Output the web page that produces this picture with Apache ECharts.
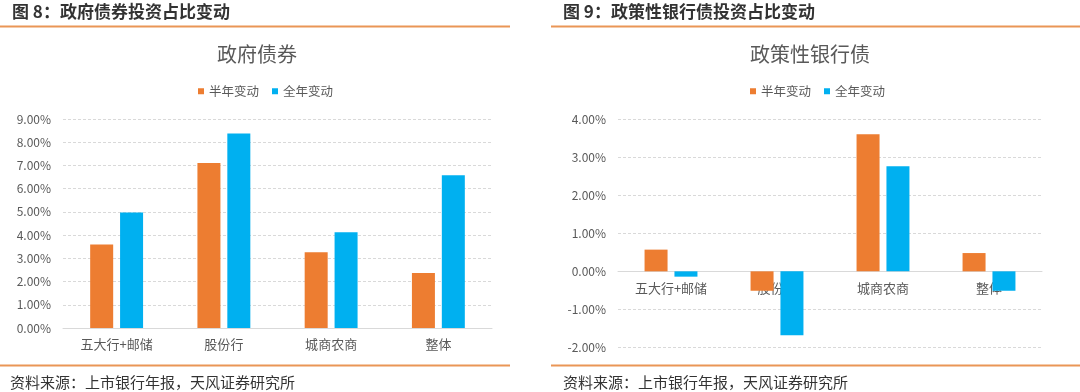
<!DOCTYPE html>
<html>
<head>
<meta charset="utf-8">
<script src="https://cdn.jsdelivr.net/npm/echarts@6/dist/echarts.min.js"></script>
<style>
html,body{margin:0;padding:0;background:#fff;}
#main{width:1080px;height:392px;}
</style>
</head>
<body>
<div id="main"></div>
<script>
var categories = ['五大行+邮储', '股份行', '城商农商', '整体'];
var seriesNames = ['半年变动', '全年变动'];
var govHalf = [3.60, 7.11, 3.26, 2.37];
var govFull = [4.97, 8.38, 4.12, 6.58];
var policyHalf = [0.57, -0.51, 3.60, 0.48];
var policyFull = [-0.14, -1.68, 2.76, -0.51];
var leftTicks = {min: 0, max: 9, interval: 1};
var rightTicks = {min: -2, max: 4, interval: 1};
var headerLeft = '图 8：政府债券投资占比变动';
var headerRight = '图 9：政策性银行债投资占比变动';
var titleLeft = '政府债券';
var titleRight = '政策性银行债';
var sourceText = '资料来源：上市银行年报，天风证券研究所';

var FONT = '"Noto Sans CJK SC", "Noto Sans", sans-serif';
var ORANGE = '#ED7D31';
var BLUE = '#00B0F0';
var LINE = '#EA9656';
var LABEL = '#595959';

var RIGHT_TOP = 119, RIGHT_H = 228.5;
// distance from grid bottom up to the zero line of the right chart
var zeroOffset = -RIGHT_H * (0 - rightTicks.min) / (rightTicks.max - rightTicks.min);

function pct(v) { return v.toFixed(2) + '%'; }

function xAxis(gridIndex, offset) {
  return {
    type: 'category', gridIndex: gridIndex, data: categories,
    offset: offset,
    axisLine: {show: true, onZero: false, lineStyle: {color: '#d9d9d9', width: 1}},
    axisTick: {show: false},
    axisLabel: {color: LABEL, fontSize: 13, fontFamily: FONT, margin: 10, interval: 0}
  };
}
function yAxis(gridIndex, t) {
  return {
    type: 'value', gridIndex: gridIndex, min: t.min, max: t.max, interval: t.interval,
    axisLine: {show: false}, axisTick: {show: false},
    axisLabel: {color: LABEL, fontSize: 12, fontFamily: FONT, margin: 12, formatter: pct},
    splitLine: {show: true, lineStyle: {color: '#d9d9d9', type: [3, 2], width: 1}}
  };
}
function bar(name, data, idx, color) {
  return {
    name: name, type: 'bar', xAxisIndex: idx, yAxisIndex: idx, data: data,
    barWidth: 23, barGap: '30%', itemStyle: {color: color}, animation: false, z: 3
  };
}
function legend(left) {
  return {
    left: left, top: 80, itemWidth: 6, itemHeight: 6, itemGap: 13, icon: 'rect',
    data: seriesNames,
    textStyle: {color: LABEL, fontSize: 12.5, fontFamily: FONT}
  };
}
function txt(x, y, text, size, weight, color, align) {
  return {
    type: 'text', x: x, y: y, silent: true,
    style: {text: text, fill: color, font: weight + ' ' + size + 'px ' + FONT,
            align: align, verticalAlign: 'middle', textAlign: align, textVerticalAlign: 'middle'}
  };
}
function hline(x1, x2, y) {
  return {type: 'line', silent: true, shape: {x1: x1, y1: y, x2: x2, y2: y},
          style: {stroke: LINE, lineWidth: 2}};
}

var chart = echarts.init(document.getElementById('main'), null, {renderer: 'canvas'});
chart.setOption({
  backgroundColor: '#ffffff',
  animation: false,
  color: [ORANGE, BLUE],
  grid: [
    {left: 63, top: 119, width: 429, height: 209, containLabel: false},
    {left: 618, top: RIGHT_TOP, width: 424, height: RIGHT_H, containLabel: false}
  ],
  legend: [legend(193), legend(745)],
  xAxis: [xAxis(0, 0), xAxis(1, zeroOffset)],
  yAxis: [yAxis(0, leftTicks), yAxis(1, rightTicks)],
  series: [
    bar(seriesNames[0], govHalf, 0, ORANGE),
    bar(seriesNames[1], govFull, 0, BLUE),
    bar(seriesNames[0], policyHalf, 1, ORANGE),
    bar(seriesNames[1], policyFull, 1, BLUE)
  ],
  graphic: [
    txt(12, 12, headerLeft, 17, 'bold', '#333333', 'left'),
    txt(563, 12, headerRight, 17, 'bold', '#333333', 'left'),
    hline(0, 510, 26.5),
    hline(551, 1080, 26.5),
    txt(257, 54, titleLeft, 20, 'normal', LABEL, 'center'),
    txt(810, 54, titleRight, 20, 'normal', LABEL, 'center'),
    hline(0, 510, 365.5),
    hline(551, 1080, 365.5),
    txt(10, 382, sourceText, 15, 'normal', '#333333', 'left'),
    txt(563, 382, sourceText, 15, 'normal', '#333333', 'left')
  ]
});
</script>
</body>
</html>
